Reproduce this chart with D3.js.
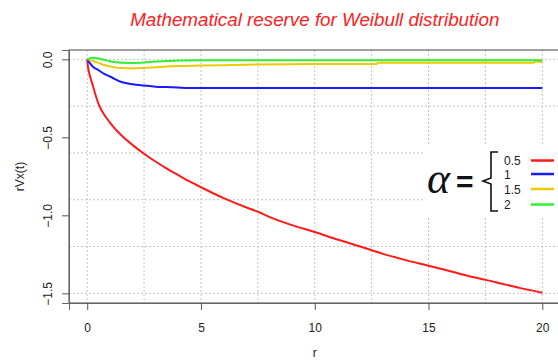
<!DOCTYPE html>
<html>
<head>
<meta charset="utf-8">
<script src="https://cdn.jsdelivr.net/npm/d3@7"></script>
<style>
  body { margin: 0; background: #fff; }
  svg { display: block; font-family: "Liberation Sans", Arial, sans-serif; }
</style>
</head>
<body>
<div id="chart"></div>
<script>
// values
const rRed = [0, 0.03, 0.1, 0.22, 0.35, 0.54, 0.75, 1, 1.13, 1.5, 2, 2.5, 3, 3.5, 4, 4.5, 5, 6, 7, 7.5, 8, 9, 10, 11, 12, 13, 14, 15, 16, 17, 18, 19, 20];
const vRed = [0, -0.045, -0.095, -0.154, -0.22, -0.30, -0.355, -0.405, -0.43, -0.487, -0.55, -0.605, -0.655, -0.70, -0.742, -0.783, -0.82, -0.89, -0.95, -0.977, -1.01, -1.063, -1.107, -1.155, -1.20, -1.247, -1.287, -1.323, -1.36, -1.397, -1.43, -1.465, -1.496];

const rBlue = [0, 0.25, 0.5, 0.75, 1, 1.5, 2, 2.5, 3, 3.5, 4, 4.5, 5, 20];
const vBlue = [0, -0.047, -0.07, -0.093, -0.11, -0.145, -0.16, -0.168, -0.175, -0.178, -0.181, -0.183, -0.183, -0.183];

const rGold = [0, 0.25, 0.5, 0.75, 1, 1.5, 2, 2.5, 3, 4, 5, 6, 7.5, 10, 12.7, 12.8, 19.6, 19.7, 20];
const vGold = [0, -0.01, -0.024, -0.036, -0.045, -0.056, -0.058, -0.055, -0.05, -0.043, -0.04, -0.037, -0.033, -0.03, -0.029, -0.022, -0.022, -0.016, -0.016];

const rGreen = [0, 0.25, 0.5, 0.75, 1, 1.5, 2, 2.5, 3, 3.5, 4, 5, 10, 20];
const vGreen = [0, 0.01, 0.006, -0.002, -0.012, -0.022, -0.023, -0.02, -0.014, -0.01, -0.007, -0.005, -0.005, -0.005];

const alphas = ["0.5", "1", "1.5", "2"];
const colors = ["#ff1a1a", "#1a1aff", "#eec900", "#33ee33"];

const xTicks = [0, 5, 10, 15, 20];
const yTicks = [0, -0.5, -1.0, -1.5];
const xGrid = [0, 2.5, 5, 7.5, 10, 12.5, 15, 17.5, 20];
const yGrid = [0, -0.3, -0.6, -0.9, -1.2, -1.5];

const width = 558, height = 361;
const box = { left: 69, right: 560.5, top: 50, bottom: 303 };

const svg = d3.select("#chart").append("svg")
  .attr("width", width)
  .attr("height", height);

const x = d3.scaleLinear().domain([-0.8, 20.8]).range([box.left, box.right]);
const y = d3.scaleLinear().domain([-1.562, 0.06]).range([box.bottom, box.top]);

// grid
svg.append("g").selectAll("line")
  .data(xGrid).enter().append("line")
  .attr("x1", d => x(d)).attr("x2", d => x(d))
  .attr("y1", box.top).attr("y2", box.bottom)
  .attr("stroke", "#c4c4c4").attr("stroke-dasharray", "2,2");
svg.append("g").selectAll("line")
  .data(yGrid).enter().append("line")
  .attr("x1", box.left).attr("x2", box.right)
  .attr("y1", d => y(d)).attr("y2", d => y(d))
  .attr("stroke", "#c4c4c4").attr("stroke-dasharray", "2,2");

// curves
const series = [[rRed, vRed], [rBlue, vBlue], [rGold, vGold], [rGreen, vGreen]];
const line = d3.line().x(d => x(d[0])).y(d => y(d[1])).curve(d3.curveMonotoneX);
series.forEach((s, i) => {
  svg.append("path")
    .datum(d3.zip(s[0], s[1]))
    .attr("d", line)
    .attr("fill", "none")
    .attr("stroke", colors[i])
    .attr("stroke-width", 2);
});

// box
svg.append("rect")
  .attr("x", box.left).attr("y", box.top)
  .attr("width", box.right - box.left).attr("height", box.bottom - box.top)
  .attr("fill", "none").attr("stroke", "#666").attr("stroke-width", 1.2);

// axes
const xAxis = svg.append("g")
  .attr("transform", "translate(0," + box.bottom + ")")
  .call(d3.axisBottom(x).tickValues(xTicks).tickSize(7).tickPadding(13).tickFormat(d3.format("d")));
xAxis.select(".domain").attr("stroke", "#666");
xAxis.selectAll(".tick line").attr("stroke", "#555");
xAxis.selectAll("text").attr("font-size", 12).attr("fill", "#222")
  .attr("font-family", "Liberation Sans, Arial, sans-serif");

const yAxis = svg.append("g")
  .attr("transform", "translate(" + box.left + ",0)")
  .call(d3.axisLeft(y).tickValues(yTicks).tickSize(7).tickFormat(d3.format(".1f")));
yAxis.select(".domain").attr("stroke", "#666");
yAxis.selectAll(".tick line").attr("stroke", "#555");
yAxis.selectAll("text")
  .attr("font-size", 12).attr("fill", "#222")
  .attr("font-family", "Liberation Sans, Arial, sans-serif")
  .attr("text-anchor", "middle")
  .attr("x", null).attr("dy", null)
  .attr("transform", "translate(-17,0) rotate(-90)")
  .text(d => d3.format(".1f")(d).replace("-", "\u2212"));

// title and labels
svg.append("text")
  .attr("x", (box.left + box.right) / 2).attr("y", 26)
  .attr("text-anchor", "middle")
  .attr("font-size", 18.8).attr("font-style", "italic")
  .attr("fill", "#ff2020")
  .text("Mathematical reserve for Weibull distribution");

svg.append("text")
  .attr("x", (box.left + box.right) / 2).attr("y", 357)
  .attr("text-anchor", "middle")
  .attr("font-size", 12).attr("fill", "#222")
  .text("r");

svg.append("text")
  .attr("transform", "translate(24," + (box.top + box.bottom) / 2 + ") rotate(-90)")
  .attr("text-anchor", "middle")
  .attr("font-size", 12).attr("fill", "#222")
  .text("rVx(t)");

// legend
const lg = svg.append("g");
lg.append("rect")
  .attr("x", 424).attr("y", 146).attr("width", 140).attr("height", 71)
  .attr("fill", "#fff");
lg.append("text")
  .attr("x", 427).attr("y", 193)
  .attr("font-family", "Liberation Serif, DejaVu Serif, serif")
  .attr("font-style", "italic")
  .attr("font-size", 44).attr("fill", "#111")
  .text("\u03b1");
lg.append("text")
  .attr("x", 456).attr("y", 192)
  .attr("font-size", 30).attr("font-weight", "bold").attr("fill", "#111")
  .text("=");
lg.append("path")
  .attr("d", "M498,152 L491,152 L491,178 L483,181 L491,184 L491,211 L498,211")
  .attr("fill", "none").attr("stroke", "#111").attr("stroke-width", 1.6);

const rowY = [160.5, 174, 189, 204.5];
alphas.forEach((a, i) => {
  lg.append("text")
    .attr("x", 504).attr("y", rowY[i] + 4.5)
    .attr("font-size", 12).attr("fill", "#222")
    .text(a);
  lg.append("line")
    .attr("x1", 531).attr("x2", 554)
    .attr("y1", rowY[i]).attr("y2", rowY[i])
    .attr("stroke", colors[i]).attr("stroke-width", 2.5);
});
</script>
</body>
</html>
